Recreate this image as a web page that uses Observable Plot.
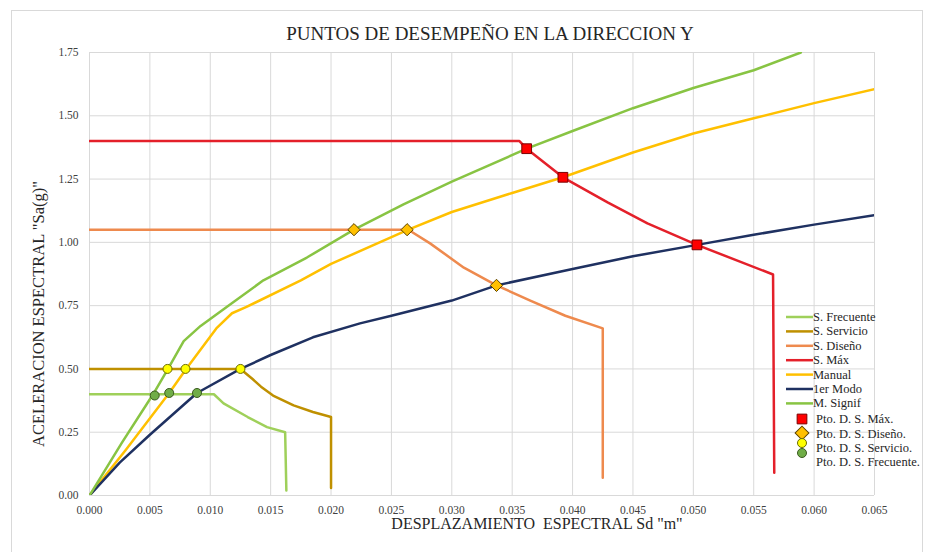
<!DOCTYPE html>
<html>
<head>
<meta charset="utf-8">
<script src="https://cdn.jsdelivr.net/npm/d3@7"></script>
<script src="https://cdn.jsdelivr.net/npm/@observablehq/plot@0.6"></script>
<style>
  html, body { margin: 0; padding: 0; background: #fff; }
  #chart svg { display: block; }
  #chart svg text { font-family: 'Liberation Serif', 'Times New Roman', serif !important; }
</style>
</head>
<body>
<div id="chart"></div>
<script>
// ---------- data ----------
const chartTitle = "PUNTOS DE DESEMPEÑO EN LA DIRECCION Y";
const xLabel = 'DESPLAZAMIENTO  ESPECTRAL Sd "m"';
const yLabel = 'ACELERACION ESPECTRAL "Sa(g)"';

const xTicks = [0, 0.005, 0.010, 0.015, 0.020, 0.025, 0.030, 0.035, 0.040, 0.045, 0.050, 0.055, 0.060, 0.065];
const yTicks = [0, 0.25, 0.50, 0.75, 1.00, 1.25, 1.50, 1.75];

const seriesNames = ["S. Frecuente", "S. Servicio", "S. Diseño", "S. Máx", "Manual", "1er Modo", "M. Signif"];
const seriesColors = ["#9fd05a", "#bf9000", "#ee8a4e", "#e4202a", "#ffc000", "#1f3161", "#88c443"];

const sFrecuente = [[0, 0.40], [0.0103, 0.40], [0.0111, 0.364], [0.0131, 0.31], [0.0147, 0.27], [0.0162, 0.25], [0.0163, 0.02]];
const sServicio = [[0, 0.50], [0.0125, 0.50], [0.0135, 0.46], [0.0142, 0.43], [0.0152, 0.395], [0.0169, 0.356], [0.0185, 0.33], [0.0200, 0.31], [0.0200, 0.03]];
const sDiseno = [[0, 1.05], [0.0264, 1.05], [0.0282, 0.996], [0.0310, 0.90], [0.0337, 0.83], [0.0365, 0.77], [0.0394, 0.71], [0.0425, 0.66], [0.0425, 0.07]];
const sMax = [[0, 1.40], [0.0356, 1.40], [0.0362, 1.37], [0.0392, 1.257], [0.0429, 1.158], [0.0462, 1.075], [0.0503, 0.99], [0.0566, 0.873], [0.0567, 0.09]];
const manual = [[0, 0], [0.0030, 0.18], [0.0066, 0.405], [0.0080, 0.50], [0.0105, 0.66], [0.0118, 0.72], [0.0130, 0.745], [0.0175, 0.85], [0.0200, 0.915], [0.0264, 1.05], [0.0300, 1.12], [0.0350, 1.195], [0.0392, 1.257], [0.0450, 1.355], [0.0500, 1.43], [0.0550, 1.49], [0.0600, 1.55], [0.0650, 1.605]];
const modo1 = [[0, 0], [0.0025, 0.13], [0.0050, 0.24], [0.0089, 0.405], [0.0125, 0.50], [0.0150, 0.555], [0.0185, 0.625], [0.0224, 0.68], [0.0250, 0.71], [0.0300, 0.77], [0.0337, 0.83], [0.0400, 0.895], [0.0450, 0.945], [0.0503, 0.99], [0.0550, 1.03], [0.0600, 1.07], [0.0650, 1.107]];
const mSignif = [[0, 0], [0.0027, 0.21], [0.0054, 0.41], [0.0065, 0.50], [0.0078, 0.61], [0.0092, 0.67], [0.0115, 0.75], [0.0144, 0.85], [0.0180, 0.94], [0.0219, 1.05], [0.0260, 1.15], [0.0300, 1.24], [0.0362, 1.37], [0.0400, 1.44], [0.0450, 1.53], [0.0500, 1.61], [0.0550, 1.68], [0.0589, 1.75]];
const seriesData = [sFrecuente, sServicio, sDiseno, sMax, manual, modo1, mSignif];

const markerNames = ["Pto. D. S. Máx.", "Pto. D. S. Diseño.", "Pto. D. S. Servicio.", "Pto. D. S. Frecuente."];
const markerSymbols = ["square", "diamond2", "circle", "circle"];
const markerFills = ["#ff0000", "#ffc000", "#ffff00", "#70ad47"];
const markerStrokes = ["#7a0000", "#5a4200", "#6b6b00", "#3b5a20"];
const ptoMax = [[0.0362, 1.37], [0.0392, 1.257], [0.0503, 0.99]];
const ptoDiseno = [[0.0219, 1.05], [0.0263, 1.05], [0.0337, 0.83]];
const ptoServicio = [[0.00646, 0.50], [0.00795, 0.50], [0.0125, 0.50]];
const ptoFrecuente = [[0.0054, 0.395], [0.0066, 0.405], [0.0089, 0.405]];
const markerData = [ptoMax, ptoDiseno, ptoServicio, ptoFrecuente];

// ---------- build tables ----------
const lineRows = [];
seriesData.forEach((arr, i) => arr.forEach(([x, y]) => lineRows.push({series: seriesNames[i], x, y})));
const dotRows = [];
markerData.forEach((arr, i) => arr.forEach(([x, y]) => dotRows.push({kind: markerNames[i], x, y})));

const W = 931, H = 552;
const M = {left: 89, right: 57, top: 52, bottom: 57};
const font = "'Liberation Serif', 'Times New Roman', serif";

const dotMark = (i, r) => Plot.dot(dotRows.filter(d => d.kind === markerNames[i]),
  {x: "x", y: "y", symbol: markerSymbols[i], r, fill: markerFills[i], stroke: markerStrokes[i], strokeWidth: 1});

const plot = Plot.plot({
  width: W, height: H,
  marginLeft: M.left, marginRight: M.right, marginTop: M.top, marginBottom: M.bottom,
  style: {fontFamily: font, background: "#fff", overflow: "visible"},
  x: {domain: [0, 0.065], ticks: xTicks},
  y: {domain: [0, 1.75], ticks: yTicks},
  color: {domain: seriesNames, range: seriesColors},
  marks: [
    Plot.gridX(xTicks, {stroke: "#d9d9d9", strokeOpacity: 1, strokeWidth: 1}),
    Plot.gridY(yTicks, {stroke: "#d9d9d9", strokeOpacity: 1, strokeWidth: 1}),
    Plot.axisX(xTicks, {tickSize: 0, tickPadding: 10, tickFormat: d3.format(".3f"), label: null, fontSize: 11.5, fontFamily: font, fontVariant: "normal", fill: "#404040"}),
    Plot.axisY(yTicks, {tickSize: 0, tickPadding: 11, tickFormat: d3.format(".2f"), label: null, fontSize: 11.5, fontFamily: font, fontVariant: "normal", fill: "#404040"}),
    Plot.line(lineRows, {x: "x", y: "y", z: "series", stroke: "series", strokeWidth: 2.5, clip: true}),
    dotMark(3, 4.5),
    dotMark(2, 4.5),
    dotMark(1, 5.5),
    dotMark(0, 5.5)
  ]
});

const svg = d3.select(plot);
// outer chart border
svg.insert("rect", ":first-child")
  .attr("x", 11.5).attr("y", 10.5).attr("width", 911).attr("height", 560)
  .attr("fill", "#fff").attr("stroke", "#d9d9d9");

// title and axis titles
svg.append("text").attr("x", 490).attr("y", 40).attr("text-anchor", "middle")
  .attr("font-size", 19).attr("fill", "#262626").text(chartTitle);
svg.append("text").attr("x", 537).attr("y", 529).attr("text-anchor", "middle")
  .attr("font-size", 16).attr("fill", "#262626").style("white-space", "pre").text(xLabel);
svg.append("text").attr("transform", "translate(44,314) rotate(-90)").attr("text-anchor", "middle")
  .attr("font-size", 16.5).attr("fill", "#262626").text(yLabel);

// legend
const lg = svg.append("g").attr("font-size", 12.5).attr("fill", "#262626").attr("text-anchor", "start");
const ly0 = 317, ldy = 14.4;
seriesNames.forEach((name, i) => {
  const y = ly0 + i * ldy;
  lg.append("line").attr("x1", 786).attr("x2", 813).attr("y1", y).attr("y2", y)
    .attr("stroke", seriesColors[i]).attr("stroke-width", 2.5);
  lg.append("text").attr("x", 813).attr("y", y + 4).text(name);
});
const symY = [419, 433, 443, 453];
const txtY = [423, 438, 452, 466];
markerNames.forEach((name, i) => {
  const s = markerSymbols[i];
  const r = s === "circle" ? 4.5 : 5.5;
  const type = s === "circle" ? d3.symbolCircle : d3.symbolSquare;
  lg.append("path").attr("d", d3.symbol(type, Math.PI * r * r)())
    .attr("transform", `translate(802,${symY[i]})` + (s === "diamond2" ? " rotate(45)" : ""))
    .attr("fill", markerFills[i]).attr("stroke", markerStrokes[i]);
  lg.append("text").attr("x", 816).attr("y", txtY[i]).text(name);
});

document.getElementById("chart").appendChild(plot);
</script>
</body>
</html>
